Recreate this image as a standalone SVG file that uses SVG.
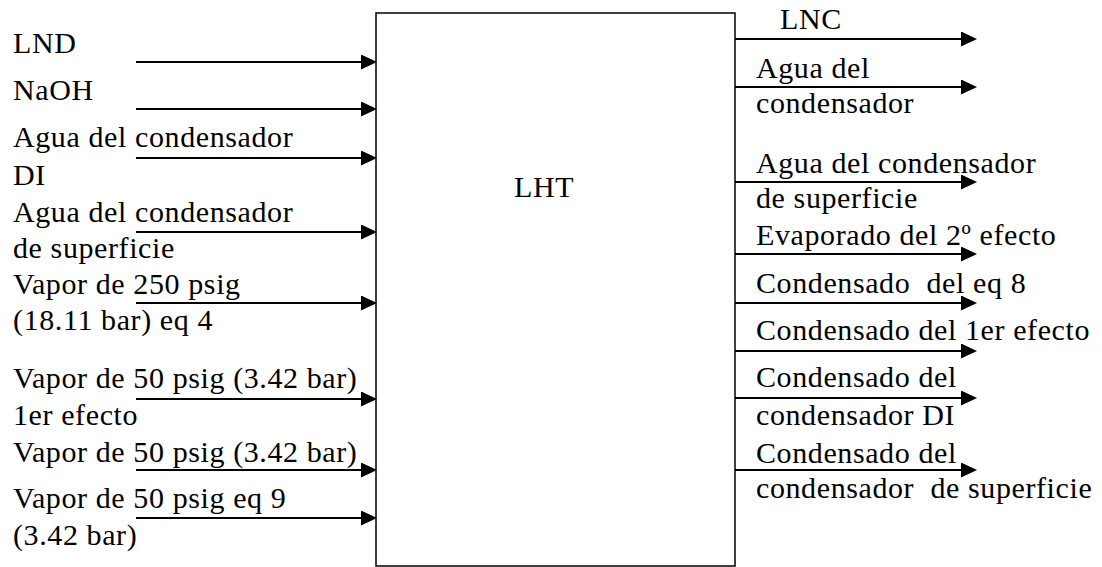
<svg xmlns="http://www.w3.org/2000/svg" width="1102" height="567" viewBox="0 0 1102 567">
<defs>
<marker id="ah" markerUnits="userSpaceOnUse" markerWidth="16" markerHeight="15" refX="0" refY="7.5" orient="auto">
<path d="M0,0 L16,7.5 L0,15 z" fill="#000"/>
</marker>
<style>
.c line{stroke:#000;stroke-width:2;marker-end:url(#ah)}
.box{fill:#fff;stroke:#000;stroke-width:1.5}
.t{font-family:"Times New Roman",Times,"Liberation Serif","Noto Serif","DejaVu Serif",serif;font-size:30px;fill:#000;letter-spacing:0.6px}
</style>
</defs>
<rect width="1102" height="567" fill="#fff"/>
<g class="t">
<g id="lht">
<rect class="box" x="376" y="13" width="359" height="553"/>
<text x="514" y="197">LHT</text>
</g>
<g id="inputs-labels">
<text x="13" y="53">LND</text>
<text x="13" y="100">NaOH</text>
<text x="13" y="147">Agua del condensador</text>
<text x="13" y="185">DI</text>
<text x="13" y="222">Agua del condensador</text>
<text x="13" y="258">de superficie</text>
<text x="13" y="294">Vapor de 250 psig</text>
<text x="13" y="330">(18.11 bar) eq 4</text>
<text x="13" y="388">Vapor de 50 psig (3.42 bar)</text>
<text x="13" y="425">1er efecto</text>
<text x="13" y="462">Vapor de 50 psig (3.42 bar)</text>
<text x="13" y="508">Vapor de 50 psig eq 9</text>
<text x="13" y="545">(3.42 bar)</text>
</g>
<g id="outputs-labels">
<text x="780" y="29">LNC</text>
<text x="756" y="78">Agua del</text>
<text x="756" y="113">condensador</text>
<text x="756" y="173">Agua del condensador</text>
<text x="756" y="208">de superficie</text>
<text x="756" y="245">Evaporado del 2º efecto</text>
<text x="756" y="293" xml:space="preserve">Condensado  del eq 8</text>
<text x="756" y="340">Condensado del 1er efecto</text>
<text x="756" y="387">Condensado del</text>
<text x="756" y="425">condensador DI</text>
<text x="756" y="463">Condensado del</text>
<text x="756" y="498" xml:space="preserve">condensador  de superficie</text>
</g>
</g>
<g id="connectors" class="c">
<line x1="136" y1="62" x2="361" y2="62"/>
<line x1="136" y1="109" x2="361" y2="109"/>
<line x1="136" y1="158" x2="361" y2="158"/>
<line x1="136" y1="232" x2="361" y2="232"/>
<line x1="136" y1="303" x2="361" y2="303"/>
<line x1="136" y1="399" x2="361" y2="399"/>
<line x1="136" y1="470" x2="361" y2="470"/>
<line x1="136" y1="518" x2="361" y2="518"/>
<line x1="735" y1="39" x2="961" y2="39"/>
<line x1="735" y1="87" x2="961" y2="87"/>
<line x1="735" y1="182" x2="961" y2="182"/>
<line x1="735" y1="254" x2="961" y2="254"/>
<line x1="735" y1="303" x2="961" y2="303"/>
<line x1="735" y1="351" x2="961" y2="351"/>
<line x1="735" y1="398" x2="961" y2="398"/>
<line x1="735" y1="470" x2="961" y2="470"/>
</g>
</svg>
